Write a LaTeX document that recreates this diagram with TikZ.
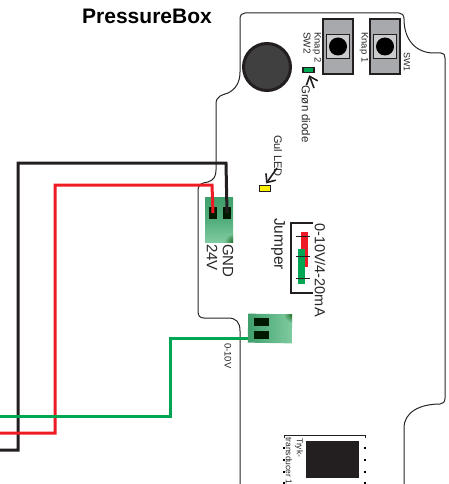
\documentclass[tikz,border=0pt]{standalone}
\usepackage{fontspec}
\setmainfont{Liberation Sans}
\usetikzlibrary{arrows.meta}
\definecolor{wireblack}{HTML}{231F20}
\definecolor{wirered}{HTML}{ED1C24}
\definecolor{wiregreen}{HTML}{00A651}
\definecolor{termdark}{HTML}{3F9F6B}
\definecolor{termlight}{HTML}{7FCBA0}
\definecolor{knapgray}{HTML}{A7A9AC}
\tikzstyle{wire} = [line width=3pt,
    line join=miter]
\tikzstyle{outline} = [line width=1pt,
    draw=black!85]
\tikzstyle{knapbody} = [draw=wireblack,
    fill=knapgray,
    line width=1.2pt,
    minimum width=30pt,
    minimum height=55pt,
    inner sep=0pt]
\tikzstyle{knapcap} = [draw=wireblack,
    fill=knapgray!60,
    line width=1.2pt,
    minimum width=23pt,
    minimum height=24pt,
    inner sep=0pt]
\tikzstyle{knapdot} = [circle,
    fill=black,
    minimum size=18pt,
    inner sep=0pt]
\tikzstyle{socket} = [fill=black!90!green,
    inner sep=0pt]
\tikzstyle{led} = [draw=wireblack,
    line width=1.2pt,
    minimum width=11pt,
    minimum height=5.5pt,
    inner sep=0pt]
\tikzstyle{lbl} = [rotate=-90,
    anchor=west,
    inner sep=0pt,
    text=black!85]
\tikzstyle{pin} = [fill=black,
    inner sep=0pt,
    minimum size=1.4pt]
\tikzstyle{pointer} = [->,
    >={Straight Barb[length=7pt,width=12pt]},
    line width=1.6pt,
    shorten >=2pt,
    draw=wireblack]
\begin{document}
\begin{tikzpicture}[x=1pt,y=-1pt]
    \useasboundingbox (0,0) rectangle (449,484);
    % board
    \draw [outline] (240,484) -- (240,331) .. controls (240,322) and (236,318) .. (228,318)
        -- (204,318) .. controls (200,318) and (198,316) .. (198,311)
        -- (198,191) .. controls (198,183) and (203,183) .. (208,182)
        .. controls (214,180) and (216,176) .. (216,170)
        -- (216,104) .. controls (216,96) and (222,95) .. (228,93)
        .. controls (236,89) and (240,82) .. (240,72)
        -- (240,19) .. controls (240,15) and (242,13) .. (245,13)
        -- (399,13) .. controls (402,13) and (404,15) .. (404,19)
        .. controls (404,40) and (416,53) .. (434,53)
        -- (441,53) .. controls (444,53) and (445,55) .. (445,58)
        -- (445,398) .. controls (445,402) and (443,404) .. (440,404)
        .. controls (420,404) and (404,412) .. (404,428) -- (404,484);
    \node (title) at (147,16) {\bfseries\fontsize{21}{24}\selectfont PressureBox};
    % round cut-out
    \node (hole) [circle,draw=wireblack,fill=black!75,line width=3pt,minimum size=47pt,inner sep=0pt] at (267,67) {};
    % switches
    \node (knapb) [knapbody] at (338,46.5) {};
    \node (capb) [knapcap] at (338,46.5) {};
    \node (dotb) [knapdot] at (338,46.5) {};
    \node (knapa) [knapbody] at (385,46.5) {};
    \node (capa) [knapcap] at (385,46.5) {};
    \node (dota) [knapdot] at (385,46.5) {};
    \node (lblknapb) [lbl,font=\fontsize{9.5}{10}\selectfont] at (317,32) {Knap 2};
    \node (lblswb) [lbl,font=\fontsize{10}{11}\selectfont] at (307,32) {SW2};
    \node (lblknapa) [lbl,font=\fontsize{9.5}{10}\selectfont] at (364,32) {Knap 1};
    \node (lblswa) [lbl,font=\fontsize{9}{10}\selectfont] at (407,52) {SW1};
    % diodes
    \node (diode) [led,fill=wiregreen] at (308.5,70) {};
    \node (lbldiode) [lbl,font=\fontsize{11.5}{12}\selectfont] at (306,85) {Grøn diode};
    \coordinate (diodetail) at (314,88);
    \draw [pointer] (diodetail) -- (diode.south);
    \node (yled) [led,fill=yellow] at (265,188.5) {};
    \node (lblyled) [lbl,font=\fontsize{11}{12}\selectfont] at (278,135) {Gul LED};
    \coordinate (yledtail) at (277,168);
    \draw [pointer] (yledtail) -- (yled.north);
    % terminals
    \shade [top color=termdark,bottom color=termlight,middle color=termdark!70!termlight] (205,197) rectangle (233,242);
    \begin{scope}
        \clip (205,197) rectangle (233,242);
        \shade [inner color=black!70!green,outer color=termlight,opacity=0.75] (233,242) circle (9);
    \end{scope}
    \node (termpow) [minimum width=28pt,minimum height=45pt,inner sep=0pt] at (219,219.5) {};
    \node (sockred) [socket,minimum width=8pt,minimum height=12pt] at (213,213) {};
    \node (sockblack) [socket,minimum width=8pt,minimum height=12pt] at (227,213) {};
    \node (lbl24) [lbl,font=\fontsize{15}{16}\selectfont] at (212,244) {24V};
    \node (lblgnd) [lbl,font=\fontsize{15}{16}\selectfont] at (228,244) {GND};
    \shade [left color=termdark,right color=termlight,rotate around={-1:(270,328)}] (248,314) rectangle (292,343);
    \begin{scope}
        \clip (248,314) rectangle (292,343);
        \shade [inner color=black!70!green,outer color=termlight,opacity=0.75] (292,314) circle (9);
    \end{scope}
    \node (termsig) [minimum width=44pt,minimum height=29pt,inner sep=0pt] at (270,328.5) {};
    \node (sockup) [socket,minimum width=15pt,minimum height=8pt] at (261,322) {};
    \node (sockdown) [socket,minimum width=15pt,minimum height=8pt] at (261,335) {};
    \node (lblsig) [lbl,font=\fontsize{9.5}{10}\selectfont] at (228,343) {0-10V};
    % wires
    \coordinate (blackin) at (0,450);
    \coordinate (redin) at (0,433);
    \coordinate (greenin) at (0,416);
    \draw [wire,wireblack] (blackin) -- (18,450) -- (18,163) -- (226,163) -- (sockblack.center);
    \draw [wire,wirered] (redin) -- (55,433) -- (55,185) -- (212,185) -- (sockred.center);
    \draw [wire,wiregreen] (greenin) -- (170,416) -- (170,338) -- (termsig.west |- 0,338);
    % jumper
    \coordinate (jumpa) at (313,223);
    \coordinate (jumpb) at (313,293);
    \draw [line width=1.6pt,wireblack] (jumpa) -- (291,223) -- (291,293) -- (jumpb);
    \node (jumpred) [fill=wirered,minimum width=7pt,minimum height=35pt,inner sep=0pt] at (304.5,249.5) {};
    \node (jumpgreen) [fill=wiregreen,minimum width=7pt,minimum height=35pt,inner sep=0pt] at (301.5,266.5) {};
    \foreach \y in {236,256,278} {
        \draw [line width=1pt,wireblack] (296,\y) -- (310,\y);
    }
    \node (lbljumper) [lbl,font=\fontsize{15.5}{16}\selectfont] at (278,218) {Jumper};
    \node (lblmode) [lbl,font=\fontsize{14.5}{16}\selectfont] at (320,223) {0-10V/4-20mA};
    % transducer
    \coordinate (transa) at (284,435);
    \coordinate (transb) at (365,435);
    \draw [line width=0.9pt,wireblack] (284,438) -- (transa) -- (transb) -- (365,438);
    \node (transbody) [fill=wireblack,minimum width=53pt,minimum height=37pt,inner sep=0pt] at (332.5,459.5) {};
    \foreach \y [count=\i] in {448,460,472,483} {
        \node (pinl\i) [pin] at (284,\y) {};
        \node (pinr\i) [pin] at (365,\y) {};
    }
    \node (lbltryk) [lbl,font=\fontsize{8.5}{9}\selectfont] at (299,438) {Tryk-};
    \node (lbltrans) [lbl,font=\fontsize{8.5}{9}\selectfont] at (289,437) {transducer 1};
\end{tikzpicture}
\end{document}
